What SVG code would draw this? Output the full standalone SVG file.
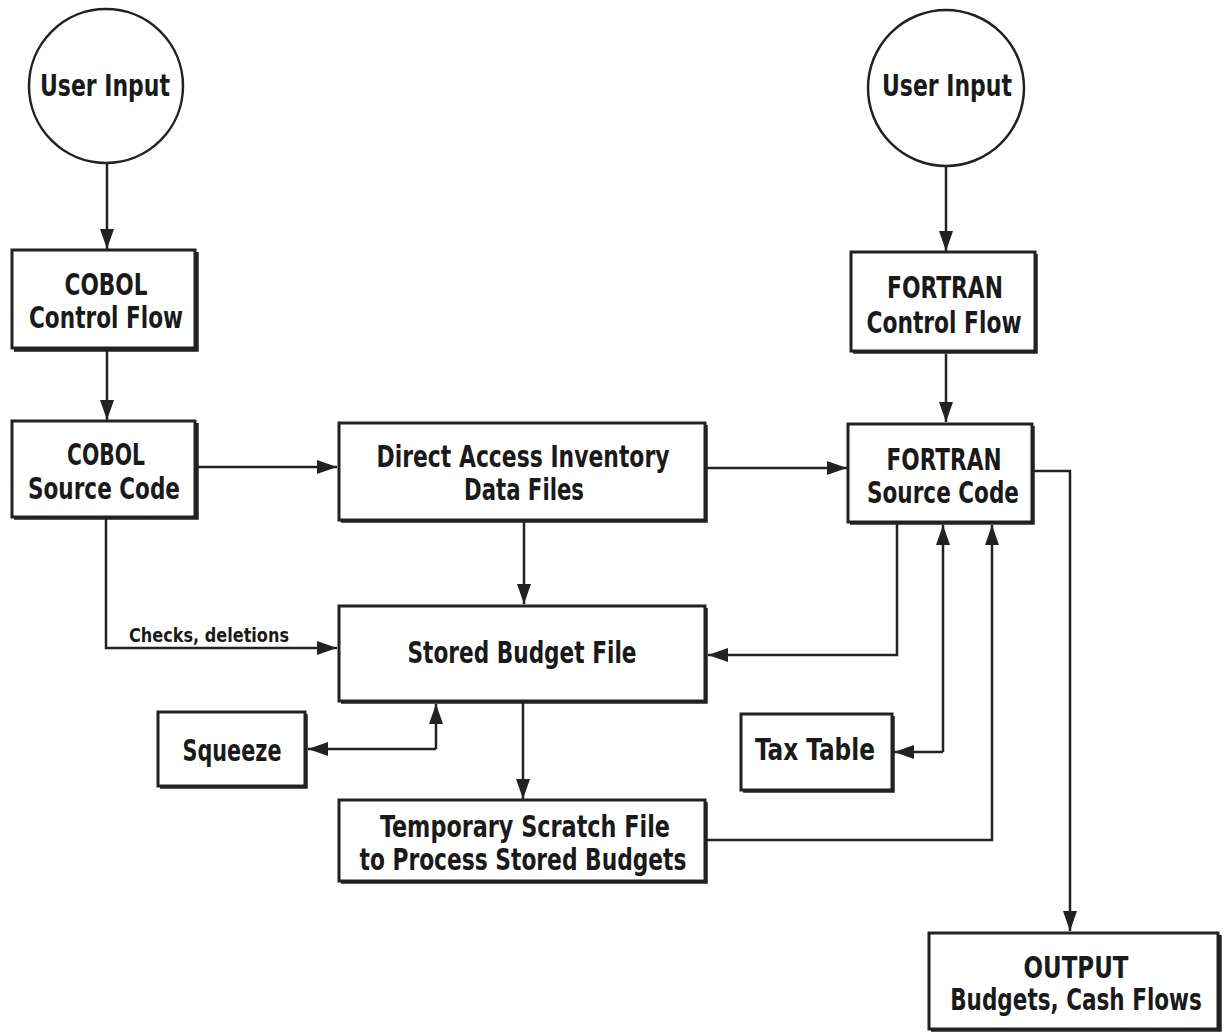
<svg xmlns="http://www.w3.org/2000/svg" width="1224" height="1034" viewBox="0 0 1224 1034">
<style>
.bx{fill:#fff;stroke:#222;stroke-width:3}
.sh{fill:none;stroke:#222;stroke-width:3.5}
.ci{fill:#fff;stroke:#222;stroke-width:2.5}
.t{font-family:"Liberation Sans Narrow","DejaVu Sans Condensed","Liberation Sans",sans-serif;font-weight:bold;font-size:30px;fill:#1a1a1a;text-anchor:middle}
.s{font-family:"Liberation Sans Narrow","DejaVu Sans Condensed","Liberation Sans",sans-serif;font-weight:bold;font-size:20px;fill:#1a1a1a}
.c{fill:none;stroke:#222;stroke-width:2.5}
</style>
<defs>
<marker id="ah" markerUnits="userSpaceOnUse" markerWidth="20" markerHeight="14" refX="20" refY="7" orient="auto" viewBox="0 0 20 14">
<path d="M0,0 L20,7 L0,14 z" fill="#222"/>
</marker>
</defs>
<rect width="1224" height="1034" fill="#fff"/>

<g id="connectors">
<path class="c" d="M107,163 V249" marker-end="url(#ah)"/>
<path class="c" d="M107,350 V420" marker-end="url(#ah)"/>
<path class="c" d="M946,167 V251" marker-end="url(#ah)"/>
<path class="c" d="M946,354 V422" marker-end="url(#ah)"/>
<path class="c" d="M197,467 H337" marker-end="url(#ah)"/>
<path class="c" d="M706,468 H847" marker-end="url(#ah)"/>
<path class="c" d="M524,522 V604" marker-end="url(#ah)"/>
<path class="c" d="M106,518 V648 H337" marker-end="url(#ah)"/>
<text class="s" x="129" y="642" textLength="160" lengthAdjust="spacingAndGlyphs">Checks, deletions</text>
<path class="c" d="M897,524 V655 H708" marker-end="url(#ah)"/>
<path class="c" d="M436,749 V704" marker-end="url(#ah)"/>
<path class="c" d="M436,749 H308" marker-end="url(#ah)"/>
<path class="c" d="M523,703 V799" marker-end="url(#ah)"/>
<path class="c" d="M707,840 H992 V525" marker-end="url(#ah)"/>
<path class="c" d="M943,752 V525" marker-end="url(#ah)"/>
<path class="c" d="M943,752 H894" marker-end="url(#ah)"/>
<path class="c" d="M1034,471 H1070 V931" marker-end="url(#ah)"/>
</g>

<g id="user-input-left">
<circle class="ci" cx="106" cy="86" r="77"/>
<text class="t" x="105" y="96" textLength="130" lengthAdjust="spacingAndGlyphs">User Input</text>
</g>

<g id="user-input-right">
<circle class="ci" cx="946" cy="88" r="78"/>
<text class="t" x="947" y="96" textLength="130" lengthAdjust="spacingAndGlyphs">User Input</text>
</g>

<g id="cobol-control">
<rect class="bx" x="12" y="250" width="183" height="98"/>
<path class="sh" d="M14,350 H197 V252"/>
<text class="t" x="106" y="295" textLength="83" lengthAdjust="spacingAndGlyphs">COBOL</text>
<text class="t" x="106" y="328" textLength="154" lengthAdjust="spacingAndGlyphs">Control Flow</text>
</g>

<g id="cobol-source">
<rect class="bx" x="12" y="421" width="183" height="96"/>
<path class="sh" d="M14,518 H197 V423"/>
<text class="t" x="106" y="465" textLength="78" lengthAdjust="spacingAndGlyphs">COBOL</text>
<text class="t" x="104" y="499" textLength="152" lengthAdjust="spacingAndGlyphs">Source Code</text>
</g>

<g id="direct-access">
<rect class="bx" x="339" y="423" width="366" height="97"/>
<path class="sh" d="M341,521 H706 V425"/>
<text class="t" x="523" y="467" textLength="293" lengthAdjust="spacingAndGlyphs">Direct Access Inventory</text>
<text class="t" x="524" y="500" textLength="120" lengthAdjust="spacingAndGlyphs">Data Files</text>
</g>

<g id="stored-budget">
<rect class="bx" x="339" y="606" width="366" height="95"/>
<path class="sh" d="M341,702 H706 V608"/>
<text class="t" x="522" y="663" textLength="229" lengthAdjust="spacingAndGlyphs">Stored Budget File</text>
</g>

<g id="squeeze">
<rect class="bx" x="158" y="712" width="147" height="74"/>
<path class="sh" d="M160,787 H306 V714"/>
<text class="t" x="232" y="761" textLength="99" lengthAdjust="spacingAndGlyphs">Squeeze</text>
</g>

<g id="temporary">
<rect class="bx" x="339" y="800" width="366" height="81"/>
<path class="sh" d="M341,882 H706 V802"/>
<text class="t" x="525" y="837" textLength="290" lengthAdjust="spacingAndGlyphs">Temporary Scratch File</text>
<text class="t" x="523" y="870" textLength="327" lengthAdjust="spacingAndGlyphs">to Process Stored Budgets</text>
</g>

<g id="fortran-control">
<rect class="bx" x="851" y="252" width="184" height="99"/>
<path class="sh" d="M853,352 H1036 V254"/>
<text class="t" x="945" y="298" textLength="116" lengthAdjust="spacingAndGlyphs">FORTRAN</text>
<text class="t" x="944" y="333" textLength="155" lengthAdjust="spacingAndGlyphs">Control Flow</text>
</g>

<g id="fortran-source">
<rect class="bx" x="848" y="424" width="184" height="98"/>
<path class="sh" d="M850,523 H1033 V426"/>
<text class="t" x="944" y="470" textLength="115" lengthAdjust="spacingAndGlyphs">FORTRAN</text>
<text class="t" x="943" y="503" textLength="152" lengthAdjust="spacingAndGlyphs">Source Code</text>
</g>

<g id="tax-table">
<rect class="bx" x="741" y="714" width="151" height="76"/>
<path class="sh" d="M743,791 H893 V716"/>
<text class="t" x="815" y="760" textLength="120" lengthAdjust="spacingAndGlyphs">Tax Table</text>
</g>

<g id="output">
<rect class="bx" x="929" y="933" width="289" height="96"/>
<path class="sh" d="M931,1030 H1220 V935"/>
<text class="t" x="1076" y="978" textLength="105" lengthAdjust="spacingAndGlyphs">OUTPUT</text>
<text class="t" transform="translate(1076,1010) scale(0.85,1)" x="0" y="0" textLength="296" lengthAdjust="spacingAndGlyphs">Budgets, Cash Flows</text>
</g>
</svg>
